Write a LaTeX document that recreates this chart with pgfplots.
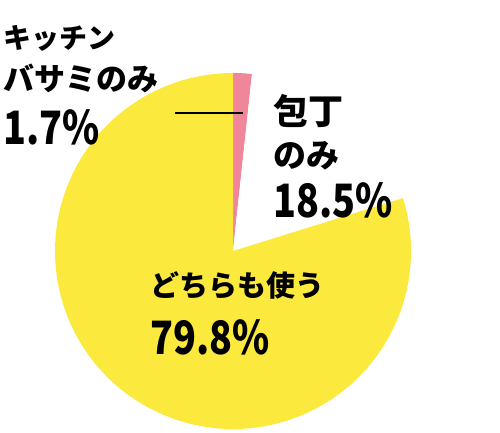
\documentclass[border=0pt]{standalone}
\usepackage{pgfplots}
\usepackage{pgfplotstable}
\pgfplotsset{compat=1.18}
\usepackage{fontspec}
\newfontfamily\jp{Noto Sans CJK JP}
\newfontfamily\num{Noto Sans CJK JP}[FakeStretch=0.82]

\definecolor{piepink}{HTML}{F0869A}
\definecolor{pieyellow}{HTML}{FCE93E}

% share (%) and colour of each slice, clockwise from 12 o'clock
\pgfplotstableread{
share color
1.7 piepink
18.5 white
79.8 pieyellow
}\piedata

\begin{document}
\begin{tikzpicture}
\begin{axis}[
    width=500bp, height=432bp, scale only axis,
    xmin=0, xmax=500, ymin=0, ymax=432,
    hide axis,
]
\pgfplotsextra{%
  \xdef\curang{90}%
  \foreach \i in {0,1,2} {%
    \pgfplotstablegetelem{\i}{share}\of\piedata \let\share\pgfplotsretval
    \pgfplotstablegetelem{\i}{color}\of\piedata \let\col\pgfplotsretval
    \pgfmathsetmacro{\endang}{\curang-3.6*\share}%
    \fill[\col] (axis cs:233,181) -- (axis cs:{233+178*cos(\curang)},{181+178*sin(\curang)})
      arc[start angle=\curang, end angle=\endang, radius=178bp] -- cycle;
    \xdef\curang{\endang}%
  }%
}
\draw[black, line width=1.3pt] (axis cs:175,319) -- (axis cs:243,319);

\begin{scope}[every node/.style={anchor=west, inner sep=0pt, text=black}]
\node at (axis cs:3,394) {\jp\bfseries\fontsize{28bp}{28bp}\selectfont キッチン};
\node at (axis cs:3,354) {\jp\bfseries\fontsize{31bp}{31bp}\selectfont バサミのみ};
\node at (axis cs:3,305) {\num\bfseries\fontsize{46bp}{46bp}\selectfont 1.7\%};
\node at (axis cs:273,321) {\jp\bfseries\fontsize{35bp}{35bp}\selectfont 包丁};
\node at (axis cs:273,276) {\jp\bfseries\fontsize{33bp}{33bp}\selectfont のみ};
\node at (axis cs:273,232) {\num\bfseries\fontsize{46bp}{46bp}\selectfont 18.5\%};
\node at (axis cs:150,147) {\jp\bfseries\fontsize{29bp}{29bp}\selectfont どちらも使う};
\node at (axis cs:150,95) {\num\bfseries\fontsize{46bp}{46bp}\selectfont 79.8\%};
\end{scope}
\end{axis}
\pgfresetboundingbox
\path (current axis.south west) rectangle (current axis.north east);
\end{tikzpicture}
\end{document}
